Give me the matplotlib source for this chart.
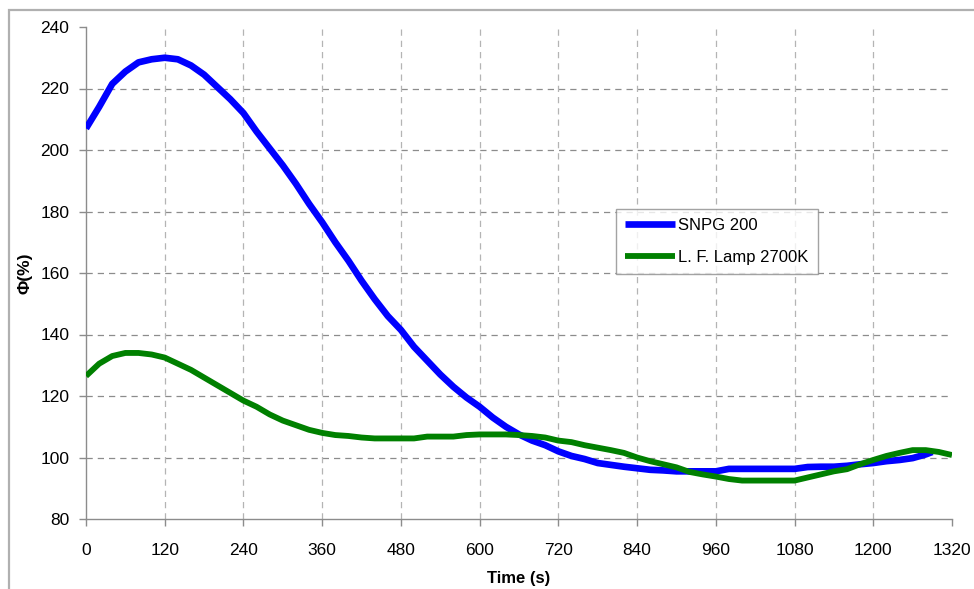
import matplotlib
matplotlib.use("Agg")
import matplotlib.pyplot as plt
from matplotlib.patches import Rectangle

plt.rcParams['font.family'] = ['Liberation Sans', 'DejaVu Sans']

# SNPG 200 (blue)
t_snpg = [0, 20, 40, 60, 80, 100, 120, 140, 160, 180, 200, 220, 240, 260, 280, 300,
          320, 340, 360, 380, 400, 420, 440, 460, 480, 500, 520, 540, 560, 580, 600,
          620, 640, 660, 680, 700, 720, 740, 760, 780, 800, 820, 840, 860, 880, 900,
          920, 940, 960, 980, 1000, 1020, 1040, 1060, 1080, 1100, 1120, 1140, 1160,
          1180, 1200, 1220, 1240, 1260, 1280, 1290]
snpg = [207, 214, 221.5, 225.5, 228.5, 229.5, 230, 229.5, 227.5, 224.5, 220.5, 216.5,
        212, 206, 200.5, 195, 189, 182.5, 176.5, 170, 164, 157.5, 151.5, 146, 141.5,
        136, 131.5, 127, 123, 119.5, 116.5, 113, 110, 107.5, 105.5, 104, 102, 100.5,
        99.5, 98.2, 97.6, 97, 96.5, 96, 95.8, 95.5, 95.5, 95.5, 95.5, 96.3, 96.3, 96.3,
        96.3, 96.3, 96.3, 96.9, 97, 97, 97.3, 97.8, 98.2, 98.8, 99.2, 99.8, 101, 101.8]

# L. F. Lamp 2700K (green)
t_lamp = [0, 20, 40, 60, 80, 100, 120, 140, 160, 180, 200, 220, 240, 260, 280, 300,
          320, 340, 360, 380, 400, 420, 440, 460, 480, 500, 520, 540, 560, 580, 600,
          620, 640, 660, 680, 700, 720, 740, 760, 780, 800, 820, 840, 860, 880, 900,
          920, 940, 960, 980, 1000, 1020, 1040, 1060, 1080, 1100, 1120, 1140, 1160,
          1180, 1200, 1220, 1240, 1260, 1280, 1300, 1320]
lamp = [126.5, 130.5, 133, 134, 134, 133.5, 132.5, 130.5, 128.5, 126, 123.5, 121,
        118.5, 116.5, 114, 112, 110.5, 109, 108, 107.3, 107, 106.5, 106.2, 106.2,
        106.2, 106.2, 106.8, 106.8, 106.8, 107.3, 107.5, 107.5, 107.5, 107.3, 107,
        106.5, 105.5, 105, 104, 103.2, 102.4, 101.5, 100, 98.8, 97.8, 96.8, 95.3, 94.5,
        93.8, 93, 92.5, 92.5, 92.5, 92.5, 92.5, 93.5, 94.5, 95.5, 96.2, 97.8, 99.2,
        100.5, 101.5, 102.4, 102.4, 101.8, 100.8]

x_ticks = list(range(0, 1321, 120))
y_ticks = list(range(80, 241, 20))

W, H = 974, 589
fig = plt.figure(figsize=(W / 100, H / 100), dpi=100)
ax = fig.add_axes([86 / W, 1 - 519 / H, (952 - 86) / W, (519 - 27) / H])

# outer frame
fig.patches.append(Rectangle((9 / W, -0.2), 1.3, 1.2 - 10 / H, transform=fig.transFigure,
                             fill=False, edgecolor='#b0b0b0', linewidth=1.6, zorder=0))

ax.plot(t_snpg, snpg, color='#0000ff', linewidth=4.8, label='SNPG 200',
        solid_capstyle='butt', solid_joinstyle='round', zorder=3)
ax.plot(t_lamp, lamp, color='#008000', linewidth=4.2, label='L. F. Lamp 2700K',
        solid_capstyle='butt', solid_joinstyle='round', zorder=4)

ax.set_xlim(0, 1320)
ax.set_ylim(80, 240)
ax.set_xticks(x_ticks)
ax.set_yticks(y_ticks)

# grid lines
for yv in y_ticks[1:-1]:
    ax.axhline(yv, color='#8c8c8c', linewidth=0.9, linestyle=(0, (5, 4)), zorder=1)
for xv in x_ticks[1:-1]:
    ax.axvline(xv, color='#b4b4b4', linewidth=0.9, linestyle=(0, (5, 4)), zorder=1)

for s in ['top', 'right']:
    ax.spines[s].set_visible(False)
for s in ['left', 'bottom']:
    ax.spines[s].set_color('#8c8c8c')
    ax.spines[s].set_linewidth(1.0)

ax.tick_params(axis='y', direction='out', length=5, width=1.0, color='#8c8c8c',
               labelsize=12.5, pad=7)
ax.tick_params(axis='x', direction='out', length=5, width=1.0, color='#8c8c8c',
               labelsize=12.5, pad=12)

ax.set_xlabel('Time (s)', fontsize=12, fontweight='bold', labelpad=10)
ax.set_ylabel('Φ(%)', fontsize=12.5, fontweight='bold', labelpad=6)

leg = ax.legend(loc='upper left', bbox_to_anchor=((616 - 86) / 866, (519 - 209) / 492),
                fontsize=12, frameon=True, fancybox=False, edgecolor='#8c8c8c',
                handlelength=3.0, handletextpad=0.2, borderpad=0.55, labelspacing=1.0,
                borderaxespad=0)
leg.get_frame().set_linewidth(1.0)

fig.savefig('out.png', dpi=100)
